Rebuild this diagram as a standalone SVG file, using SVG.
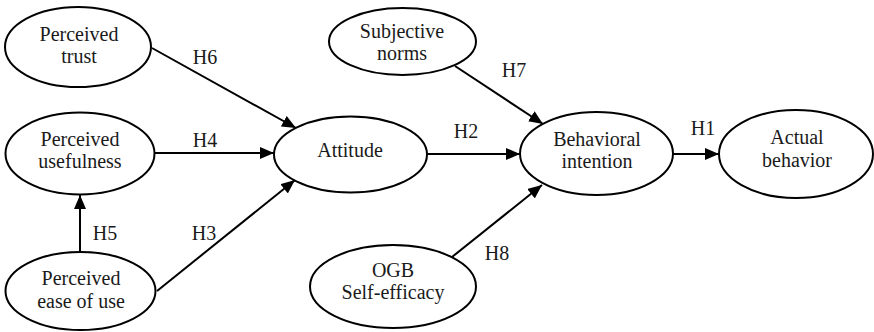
<svg xmlns="http://www.w3.org/2000/svg" width="874" height="332" viewBox="0 0 874 332" font-family="Liberation Serif, Times New Roman, serif" font-size="20">
<style>
.node ellipse{fill:#fff;stroke:#000;stroke-width:2}
text{fill:#1a1a1a;text-anchor:middle}
.edge line{stroke:#000;stroke-width:2;marker-end:url(#arr)}
</style>
<defs>
<marker id="arr" markerUnits="userSpaceOnUse" markerWidth="14" markerHeight="12" refX="14" refY="6" orient="auto">
<path d="M0,0 L14,6 L0,12 z" fill="#000"/>
</marker>
</defs>
<rect width="874" height="332" fill="#fff"/>
<g id="edges" class="edge">
<line x1="152" y1="48" x2="296" y2="128"/>
<line x1="155" y1="153" x2="274" y2="153"/>
<line x1="157" y1="291" x2="295" y2="180"/>
<line x1="80" y1="252" x2="80" y2="195"/>
<line x1="427" y1="154" x2="520" y2="154"/>
<line x1="455" y1="66" x2="543" y2="124"/>
<line x1="452" y1="257" x2="542" y2="185"/>
<line x1="673" y1="154" x2="719" y2="154"/>
</g>
<g id="labels">
<text x="205" y="64">H6</text>
<text x="205" y="147">H4</text>
<text x="105" y="240">H5</text>
<text x="204" y="240">H3</text>
<text x="466" y="138">H2</text>
<text x="514" y="77">H7</text>
<text x="497" y="260">H8</text>
<text x="703" y="135">H1</text>
</g>
<g id="perceived-trust" class="node">
<ellipse cx="78" cy="47" rx="73" ry="40"/>
<text x="79" y="41">Perceived</text>
<text x="79" y="63">trust</text>
</g>
<g id="perceived-usefulness" class="node">
<ellipse cx="80" cy="153.5" rx="74.5" ry="41"/>
<text x="80" y="146">Perceived</text>
<text x="80" y="168">usefulness</text>
</g>
<g id="perceived-ease" class="node">
<ellipse cx="80.5" cy="291" rx="75" ry="39"/>
<text x="81" y="285">Perceived</text>
<text x="81" y="308">ease of use</text>
</g>
<g id="attitude" class="node">
<ellipse cx="350.5" cy="154.5" rx="76.5" ry="38"/>
<text x="350" y="157">Attitude</text>
</g>
<g id="subjective-norms" class="node">
<ellipse cx="402.5" cy="41.5" rx="73.5" ry="33.5"/>
<text x="402" y="38">Subjective</text>
<text x="402" y="60">norms</text>
</g>
<g id="ogb-self-efficacy" class="node">
<ellipse cx="393" cy="286.5" rx="83" ry="41.5"/>
<text x="393" y="277">OGB</text>
<text x="393" y="299">Self-efficacy</text>
</g>
<g id="behavioral-intention" class="node">
<ellipse cx="596.5" cy="153.5" rx="76.5" ry="41.5"/>
<text x="597" y="146">Behavioral</text>
<text x="597" y="168">intention</text>
</g>
<g id="actual-behavior" class="node">
<ellipse cx="796" cy="154" rx="77" ry="44"/>
<text x="797" y="144">Actual</text>
<text x="797" y="167">behavior</text>
</g>
</svg>
